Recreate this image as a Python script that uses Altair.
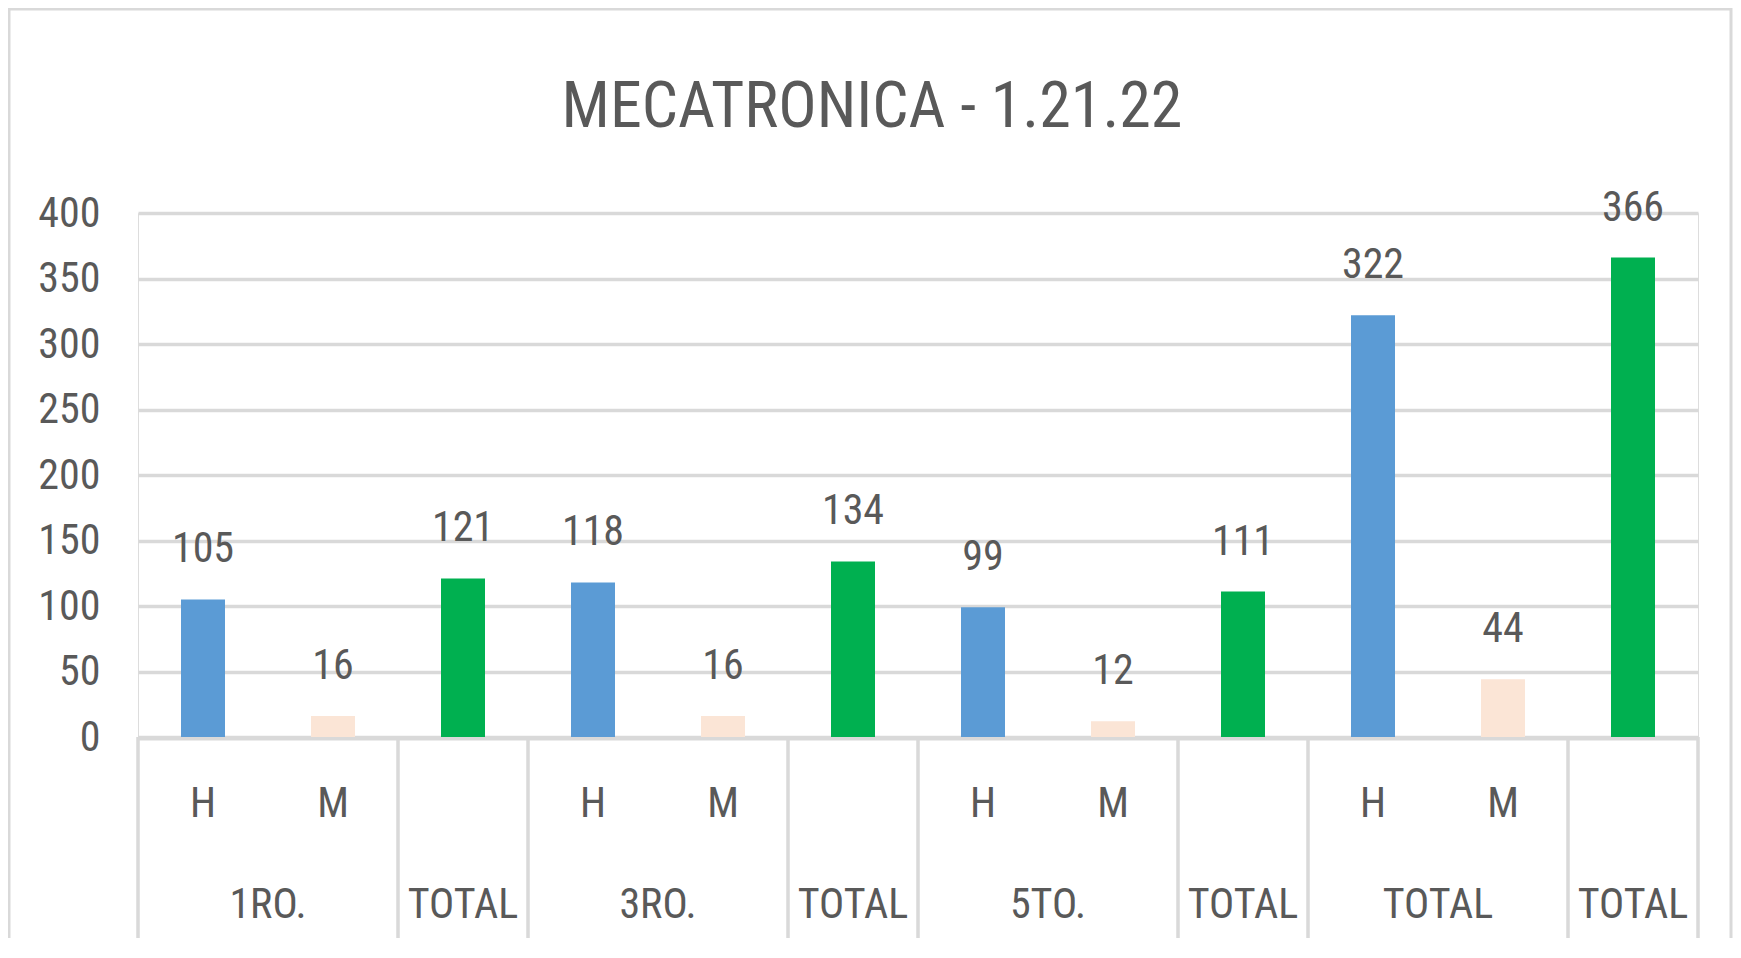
import altair as alt
import pandas as pd

# ---- data ----
sub_labels = ["H", "M", "", "H", "M", "", "H", "M", "", "H", "M", ""]
series = ["H", "M", "TOTAL", "H", "M", "TOTAL", "H", "M", "TOTAL", "H", "M", "TOTAL"]
values = [105, 16, 121, 118, 16, 134, 99, 12, 111, 322, 44, 366]
group_labels = ["1RO.", "TOTAL", "3RO.", "TOTAL", "5TO.", "TOTAL", "TOTAL", "TOTAL"]
group_sizes = [2, 1, 2, 1, 2, 1, 2, 1]
y_ticks = [0, 50, 100, 150, 200, 250, 300, 350, 400]
title_text = "MECATRONICA - 1.21.22"

FONT = "'Liberation Sans Narrow', 'Arial Narrow', 'Roboto Condensed', 'Liberation Sans', sans-serif"
TXT = "#595959"
GRID = "#D9D9D9"

W, H = 1560, 524

df = pd.DataFrame({
    "idx": list(range(len(values))),
    "sub": sub_labels,
    "series": series,
    "value": values,
})

starts = []
s = 0
for n in group_sizes:
    starts.append(s)
    s += n
groups = pd.DataFrame({"idx": starts, "label": group_labels, "size": group_sizes})
g2 = groups[groups["size"] == 2]
g1 = groups[groups["size"] == 1]
end_df = pd.DataFrame({"idx": [len(values) - 1]})

xscale = alt.Scale(domain=list(range(len(values))), paddingInner=0, paddingOuter=0)
X = lambda bp=0.5: alt.X("idx:O", scale=xscale, axis=None, bandPosition=bp)

base = alt.Chart(df)

bars = base.mark_bar(size=44).encode(
    x=X(),
    y=alt.Y("value:Q", scale=alt.Scale(domain=[0, 400], nice=False),
            axis=alt.Axis(values=y_ticks, grid=True, gridColor=GRID, gridWidth=3.5,
                          domain=False, ticks=False, labelFont=FONT, labelFontSize=42,
                          labelColor=TXT, labelPadding=38, title=None)),
    color=alt.Color("series:N",
                    scale=alt.Scale(domain=["H", "M", "TOTAL"],
                                    range=["#5B9BD5", "#FBE5D6", "#00B050"]),
                    legend=None),
)

labels = base.mark_text(font=FONT, fontSize=42, color=TXT, baseline="alphabetic",
                        dy=-37).encode(x=X(), y="value:Q", text="value:Q")

baseline = alt.Chart(pd.DataFrame({"v": [0]})).mark_rule(
    color=GRID, strokeWidth=4, yOffset=1.5).encode(y="v:Q", x=alt.value(0), x2=alt.value(W))

inner = base.mark_text(font=FONT, fontSize=42, color=TXT, baseline="alphabetic").encode(
    x=X(), y=alt.value(604), text="sub:N")

seps = alt.Chart(groups).mark_rule(color=GRID, strokeWidth=3.5).encode(
    x=X(0), y=alt.value(H), y2=alt.value(727))
sep_end = alt.Chart(end_df).mark_rule(color=GRID, strokeWidth=3.5).encode(
    x=X(1), y=alt.value(H), y2=alt.value(727))

outer2 = alt.Chart(g2).mark_text(font=FONT, fontSize=42, color=TXT, baseline="alphabetic").encode(
    x=X(1), y=alt.value(705), text="label:N")
outer1 = alt.Chart(g1).mark_text(font=FONT, fontSize=42, color=TXT, baseline="alphabetic").encode(
    x=X(0.5), y=alt.value(705), text="label:N")

title = alt.Chart(pd.DataFrame({"t": [title_text]})).mark_text(
    font=FONT, fontSize=64, color=TXT, baseline="alphabetic", align="center").encode(
    x=alt.value(734), y=alt.value(-86), text="t:N")

border = alt.Chart(pd.DataFrame({"b": [1]})).mark_rect(
    fill=None, stroke=GRID, strokeWidth=3).encode(
    x=alt.value(-129), x2=alt.value(1593), y=alt.value(-204), y2=alt.value(900))

chart = alt.layer(border, baseline, bars, labels, inner, seps, sep_end, outer2, outer1, title).properties(
    width=W, height=H,
    autosize=alt.AutoSizeParams(type="none"),
    padding={"left": 130, "top": 205, "right": 35, "bottom": 201},
).configure_view(stroke=None).configure(background="white")

chart.save("out.html", embed_options={"renderer": "svg", "actions": False})
